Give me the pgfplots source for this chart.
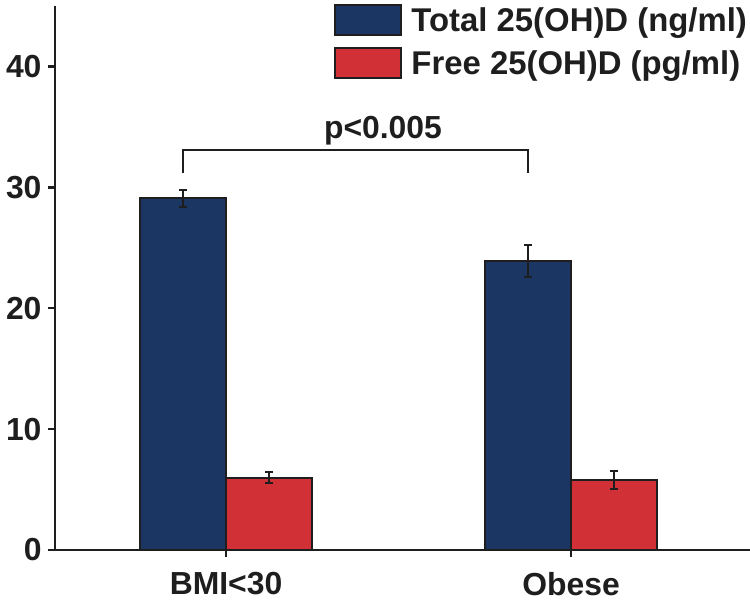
\documentclass[border=0pt]{standalone}
\usepackage{pgfplots}
\pgfplotsset{compat=1.18}
\usepackage{fontspec}
\setmainfont{Liberation Sans}
\definecolor{tblue}{RGB}{28,54,99}
\definecolor{fred}{RGB}{209,49,54}
\definecolor{ink}{RGB}{30,30,30}
\pgfplotsset{
  mylegend/.style={legend image code/.code={\draw[##1, line width=2bp, draw=ink] (0bp,-15bp) rectangle (66bp,15bp);}},
}
\begin{document}
\begin{tikzpicture}
\begin{axis}[
  scale only axis, width=695bp, height=544bp,
  xmin=-0.4957, xmax=1.5188, ymin=0, ymax=45,
  axis x line*=bottom, axis y line*=left,
  axis line style={line width=2.5bp, ink, -},
  xtick={0,1}, xticklabels={BMI<30,Obese},
  ytick={0,10,20,30,40},
  tick align=outside, major tick length=7bp,
  tick style={line width=2.5bp, ink},
  yticklabel style={font=\fontsize{32}{38}\selectfont\bfseries, text=ink, xshift=-3bp},
  xticklabel style={font=\fontsize{32}{38}\selectfont\bfseries, text=ink, yshift=-12bp},
  /pgf/number format/assume math mode=true,
  legend style={at={(rel axis cs:1.003,1.007)}, anchor=north east, draw=none, fill=none,
    font=\fontsize{33}{40}\selectfont\bfseries, text=ink, row sep=11bp,
    legend cell align=left, /tikz/every odd column/.append style={column sep=7bp}},
  clip=false,
]
\addplot[ybar, bar width=0.25, bar shift=0, fill=tblue, draw=ink, line width=2bp, mylegend,
  error bars/.cd, y dir=both, y explicit,
  error bar style={line width=2bp, ink},
  error mark options={rotate=90, mark size=4bp, line width=2bp, ink}]
  coordinates {(-0.125,29.1) +- (0,0.7) (0.875,23.9) +- (0,1.3)};
\addlegendentry{Total 25(OH)D (ng/ml)}
\addplot[ybar, bar width=0.25, bar shift=0, fill=fred, draw=ink, line width=2bp, mylegend,
  error bars/.cd, y dir=both, y explicit,
  error bar style={line width=2bp, ink},
  error mark options={rotate=90, mark size=4bp, line width=2bp, ink}]
  coordinates {(0.125,5.98) +- (0,0.44) (1.125,5.8) +- (0,0.73)};
\addlegendentry{Free 25(OH)D (pg/ml)}
\draw[line width=2bp, ink] (axis cs:-0.125,31.2) -- (axis cs:-0.125,33.05) -- (axis cs:0.875,33.05) -- (axis cs:0.875,31.2);
\node[anchor=base, font=\fontsize{32}{38}\selectfont\bfseries, text=ink, inner sep=0pt] at (axis cs:0.455,34.05) {p<0.005};
\end{axis}
\pgfresetboundingbox
\useasboundingbox ([shift={(-55bp,-53bp)}]current axis.south west) rectangle ([shift={(0bp,6bp)}]current axis.north east);
\end{tikzpicture}
\end{document}
